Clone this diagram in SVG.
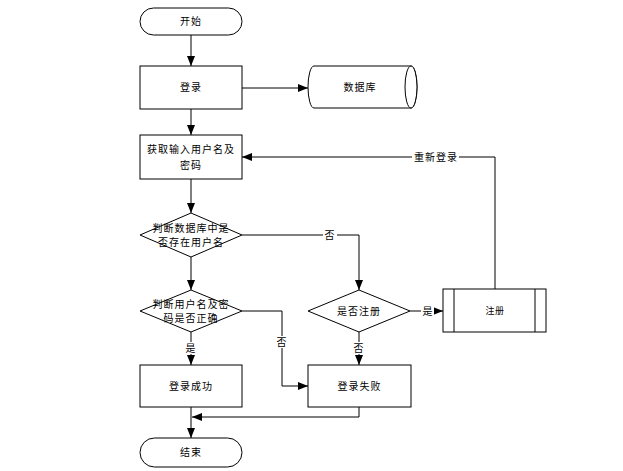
<svg xmlns="http://www.w3.org/2000/svg" width="623" height="471" viewBox="0 0 623 471">
<style>
.s{fill:#fff;stroke:#000;stroke-width:1}
.t{font-family:"Liberation Sans","Noto Sans CJK SC",sans-serif;font-size:10px;letter-spacing:1px;fill:#000;text-anchor:middle;dominant-baseline:central}
.sm{font-size:9px;letter-spacing:0.5px}
.c{fill:none;stroke:#000;stroke-width:1}
.lb{fill:#fff}
</style>
<defs>
<marker id="a" viewBox="0 0 10 8" refX="10" refY="4" markerWidth="10" markerHeight="8" markerUnits="userSpaceOnUse" orient="auto">
<path d="M0,0 L10,4 L0,8 Z" fill="#000"/>
</marker>
</defs>
<rect width="623" height="471" fill="#fff"/>
<g id="connectors">
<path class="c" d="M191,35 L191,66" marker-end="url(#a)"/>
<path class="c" d="M191,109 L191,135" marker-end="url(#a)"/>
<path class="c" d="M242,88 L308,88" marker-end="url(#a)"/>
<path class="c" d="M191,179 L191,213" marker-end="url(#a)"/>
<path class="c" d="M242,235 L359,235 L359,290" marker-end="url(#a)"/>
<path class="c" d="M191,257 L191,290" marker-end="url(#a)"/>
<path class="c" d="M191,332 L191,365" marker-end="url(#a)"/>
<path class="c" d="M242,311 L282,311 L282,386 L308,386" marker-end="url(#a)"/>
<path class="c" d="M359,332 L359,365" marker-end="url(#a)"/>
<path class="c" d="M410,311 L443,311" marker-end="url(#a)"/>
<path class="c" d="M495,289 L495,157 L242,157" marker-end="url(#a)"/>
<path class="c" d="M191,407 L191,438" marker-end="url(#a)"/>
<path class="c" d="M359,407 L359,417 L192,417" marker-end="url(#a)"/>
<rect class="lb" x="323" y="229" width="14" height="12"/>
<text class="t" x="330" y="235">否</text>
<rect class="lb" x="184" y="342" width="14" height="12"/>
<text class="t" x="191" y="348">是</text>
<rect class="lb" x="275" y="336" width="14" height="12"/>
<text class="t" x="282" y="342">否</text>
<rect class="lb" x="352" y="342" width="14" height="12"/>
<text class="t" x="359" y="348">否</text>
<rect class="lb" x="421" y="305" width="13" height="12"/>
<text class="t" x="428" y="311">是</text>
<rect class="lb" x="412" y="151" width="47" height="12"/>
<text class="t" x="436" y="157">重新登录</text>
</g>
<g id="start">
<rect class="s" x="140" y="8" width="102" height="27" rx="13.5"/>
<text class="t" x="191" y="21.5">开始</text>
</g>
<g id="login">
<rect class="s" x="140" y="66" width="102" height="43"/>
<text class="t" x="191" y="87.5">登录</text>
</g>
<g id="database">
<path class="s" d="M314,66 L411,66 A6,21 0 0 1 411,108 L314,108 A6,21 0 0 1 314,66 Z"/>
<ellipse class="s" cx="411" cy="87" rx="6" ry="21"/>
<text class="t" x="360" y="87">数据库</text>
</g>
<g id="input">
<rect class="s" x="140" y="135" width="102" height="44"/>
<text class="t" x="191" y="149">获取输入用户名及</text>
<text class="t" x="191" y="165">密码</text>
</g>
<g id="check-user">
<path class="s" d="M191,213 L242,235 L191,257 L140,235 Z"/>
<text class="t" x="191" y="228">判断数据库中是</text>
<text class="t" x="191" y="242">否存在用户名</text>
</g>
<g id="check-pwd">
<path class="s" d="M191,290 L242,311 L191,332 L140,311 Z"/>
<text class="t" x="191" y="304">判断用户名及密</text>
<text class="t" x="191" y="318">码是否正确</text>
</g>
<g id="register-q">
<path class="s" d="M359,290 L410,311 L359,332 L308,311 Z"/>
<text class="t" x="359" y="311">是否注册</text>
</g>
<g id="register">
<rect class="s" x="443" y="289" width="103" height="43"/>
<line class="c" x1="454" y1="289" x2="454" y2="332"/>
<line class="c" x1="535" y1="289" x2="535" y2="332"/>
<text class="t sm" x="495" y="310.5">注册</text>
</g>
<g id="success">
<rect class="s" x="140" y="365" width="102" height="42"/>
<text class="t" x="191" y="386">登录成功</text>
</g>
<g id="fail">
<rect class="s" x="308" y="365" width="103" height="42"/>
<text class="t" x="359.5" y="386">登录失败</text>
</g>
<g id="end">
<rect class="s" x="140" y="438" width="102" height="29" rx="14.5"/>
<text class="t" x="191" y="452.5">结束</text>
</g>
</svg>
